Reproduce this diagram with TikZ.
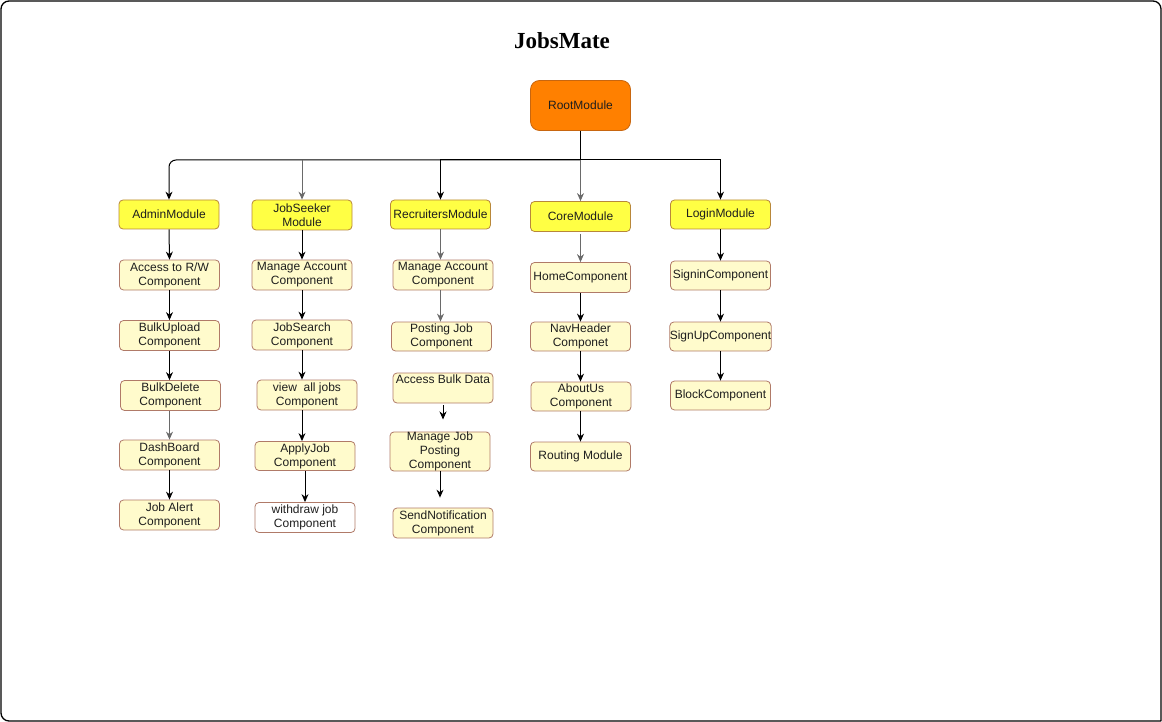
\documentclass[tikz,border=0pt]{standalone}
\usepackage{fontspec}
\setmainfont{Liberation Sans}
\newfontfamily\titlefont{Liberation Serif}
\usetikzlibrary{arrows.meta,calc}
\definecolor{modfill}{HTML}{FFFF44}
\definecolor{modline}{HTML}{B8873A}
\definecolor{compfill}{HTML}{FFFBCC}
\definecolor{compline}{HTML}{B07A68}
\definecolor{rootfill}{HTML}{FF8000}
\definecolor{rootline}{HTML}{C8660F}
\definecolor{textc}{HTML}{1E1E1E}
\definecolor{arrgray}{HTML}{6A6A6A}
\begin{document}
\begin{tikzpicture}[x=1pt,y=-1pt,
  box/.style={rectangle, rounded corners=4pt, minimum width=100pt, minimum height=30pt,
    inner xsep=0pt, inner ysep=0pt, align=center, font=\fontsize{12}{14}\selectfont,
    text=textc, line width=0.8pt},
  module/.style={box, fill=modfill, draw=modline},
  comp/.style={box, fill=compfill, draw=compline},
  wcomp/.style={box, fill=white, draw=compline},
  rootbox/.style={box, fill=rootfill, draw=rootline, minimum height=50pt, rounded corners=9pt},
  arr/.style={-{Stealth[length=8pt,width=7pt]}, line width=1pt, draw=black},
  garr/.style={arr, draw=arrgray},
  frame/.style={line width=1.3pt, draw=black, rounded corners=8pt}
]
\useasboundingbox (0,0) rectangle (1162,722);
\draw[frame] (1161,721) -- (1161,1) -- (1,1) -- (1,721) -- (1161,721);

\node[font=\titlefont\fontsize{23}{23}\selectfont\bfseries] (title) at (562,41) {JobsMate};

\node[rootbox] (root) at (580.5,105.5) {RootModule};
\coordinate (bus) at (580.5,160);

% modules
\node[module, minimum height=29pt] (adm) at (169,214.5) {AdminModule};
\node[module] (js) at (302,215) {JobSeeker\\Module};
\node[module, minimum height=29pt] (rec) at (440.5,214.5) {RecruitersModule};
\node[module] (core) at (580.5,216.5) {CoreModule};
\node[module, minimum height=29pt] (log) at (720.5,214.5) {LoginModule};

% admin column
\node[comp] (a1) at (169.5,275) {Access to R/W\\Component};
\node[comp] (a2) at (169.5,335.5) {BulkUpload\\Component};
\node[comp] (a3) at (170.5,395.5) {BulkDelete\\Component};
\node[comp] (a4) at (169.5,455) {DashBoard\\Component};
\node[comp] (a5) at (169.5,515) {Job Alert\\Component};

% jobseeker column
\node[comp] (j1) at (302,275) {Manage Account\\Component};
\node[comp] (j2) at (302,335) {JobSearch\\Component};
\node[comp] (j3) at (307,395) {view\ \ all jobs\\Component};
\node[comp, minimum height=29pt] (j4) at (305,456) {ApplyJob\\Component};
\node[wcomp] (j5) at (305,517.5) {withdraw job\\Component};

% recruiters column
\node[comp] (r1) at (443,275) {Manage Account\\Component};
\node[comp, minimum height=29pt] (r2) at (441.5,336.5) {Posting Job\\Component};
\node[comp] (r3) at (443,388) {Access Bulk Data\\\strut};
\node[comp, minimum height=37pt] (r4) at (440,451.5) {Manage Job\\Posting\\Component};
\node[comp] (r5) at (443,523) {SendNotification\\Component};

% core column
\node[comp] (c1) at (580.5,277.5) {HomeComponent};
\node[comp, minimum height=29pt] (c2) at (580.5,336.5) {NavHeader\\Componet};
\node[comp, minimum height=29pt] (c3) at (581,396.5) {AboutUs\\Component};
\node[comp, minimum height=29pt] (c4) at (580.5,456.5) {Routing Module};

% login column
\node[comp, minimum height=29pt] (l1) at (720.5,275.5) {SigninComponent};
\node[comp, minimum height=29pt] (l2) at (720.5,336.5) {SignUpComponent};
\node[comp, minimum height=29pt] (l3) at (720.5,395.5) {BlockComponent};

% root to modules
\draw[line width=1pt] (root.south) -- (bus);
\draw[arr, rounded corners=7pt] (bus) -| (adm.north);
\draw[garr] (js.north |- bus) -- (js.north);
\draw[arr] (bus) -| (rec.north);
\draw[garr] (bus) -- (core.north);
\draw[arr] (bus) -| (log.north);

% admin
\draw[arr] (adm.south) -- (a1.north);
\draw[arr] (a1.south) -- (a2.north);
\draw[arr] (a2.south) -- (a2.south |- a3.north);
\draw[garr] (a3.south -| a4.north) -- (a4.north);
\draw[arr] (a4.south) -- (a5.north);

% jobseeker
\draw[arr] (js.south) -- (j1.north);
\draw[arr] (j1.south) -- (j2.north);
\draw[arr] (j2.south) -- (j2.south |- j3.north);
\draw[arr] (j3.south -| j2.south) -- (j2.south |- j4.north);
\draw[arr] (j4.south) -- (j5.north);

% recruiters
\draw[garr] (rec.south) -- (rec.south |- r1.north);
\draw[garr] (r1.south -| rec.south) -- (rec.south |- r2.north);
\draw[arr, shorten <=2pt, shorten >=12pt] (r3.south) -- (r3.south |- r4.north);
\draw[arr, shorten >=10pt] (r4.south) -- (r4.south |- r5.north);

% core
\draw[garr, shorten <=2pt] (core.south) -- (c1.north);
\draw[arr] (c1.south) -- (c2.north);
\draw[arr] (c2.south) -- (c2.south |- c3.north);
\draw[arr] (c3.south -| c4.north) -- (c4.north);

% login
\draw[arr] (log.south) -- (l1.north);
\draw[arr] (l1.south) -- (l2.north);
\draw[arr] (l2.south) -- (l3.north);
\end{tikzpicture}
\end{document}
